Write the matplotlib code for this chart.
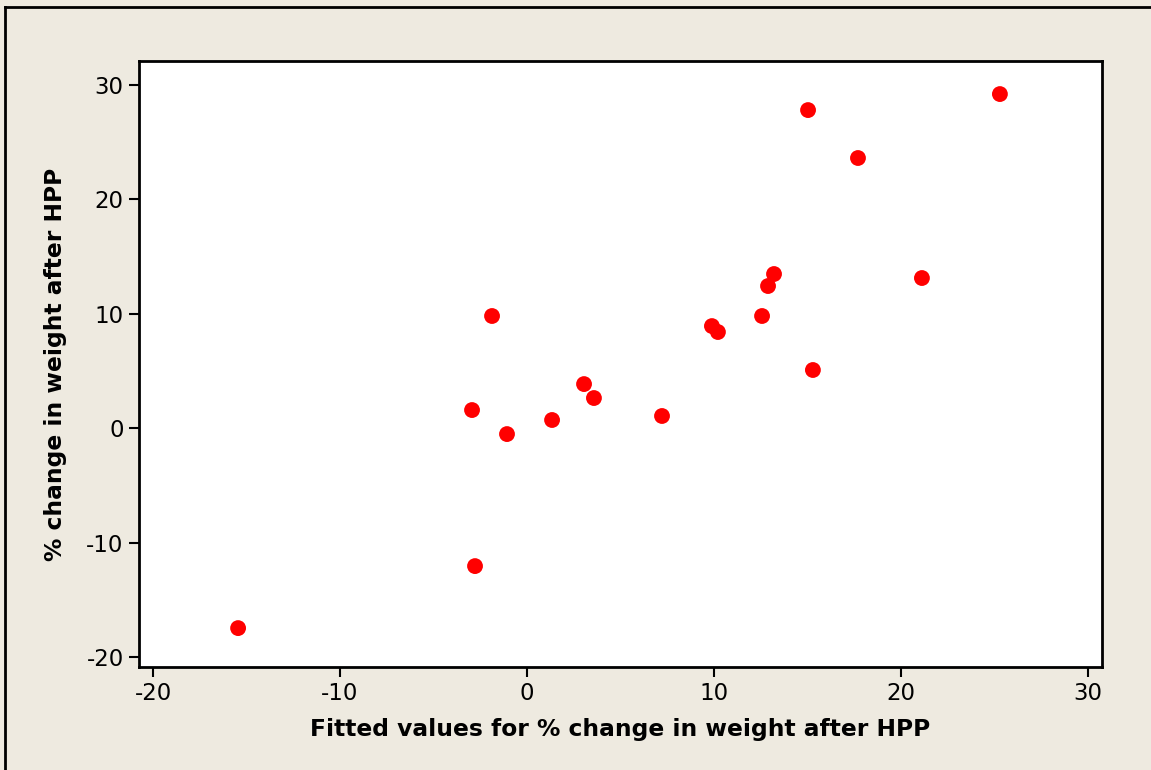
import numpy as np
import matplotlib.pyplot as plt
from matplotlib.lines import Line2D

# fitted values vs observed % change in weight after HPP
fitted = [-15.45, -2.78, -2.94, -1.87, -1.07, 1.34, 3.05, 3.58, 7.22, 9.89,
          10.21, 12.57, 12.89, 13.21, 15.29, 15.03, 17.70, 21.12, 25.29]
observed = [-17.47, -12.05, 1.59, 9.81, -0.51, 0.72, 3.86, 2.64, 1.07, 8.93,
            8.41, 9.81, 12.43, 13.48, 5.09, 27.81, 23.62, 13.13, 29.21]

xticks = [-20, -10, 0, 10, 20, 30]
yticks = [-20, -10, 0, 10, 20, 30]

bg = '#EEEAE0'
plt.rcParams['font.family'] = ['DejaVu Sans']
plt.rcParams['axes.unicode_minus'] = False

fig = plt.figure(figsize=(11.51, 7.70), dpi=100, facecolor=bg)
ax = fig.add_axes([139/1151, 1 - 667/770, (1102-139)/1151, (667-61)/770])
ax.set_facecolor('white')

ax.scatter(fitted, observed, s=130, color='#FF0000', edgecolors='none', zorder=3)

ax.set_xlim(-20.75, 30.75)
ax.set_ylim(-20.87, 32.1)
ax.set_xticks(xticks)
ax.set_yticks(yticks)
ax.tick_params(labelsize=16.5, length=7, width=1.5, color='black', pad=4)
for s in ax.spines.values():
    s.set_linewidth(2)

ax.set_xlabel('Fitted values for % change in weight after HPP', fontsize=16.8,
              fontweight='bold', labelpad=9)
ax.set_ylabel('% change in weight after HPP', fontsize=16.8, fontweight='bold',
              labelpad=14)

# outer frame (left and top edges)
fig.add_artist(Line2D([5/1151, 5/1151], [0, 1 - 7/770], color='black', lw=2))
fig.add_artist(Line2D([5/1151, 1], [1 - 7/770, 1 - 7/770], color='black', lw=2))

fig.savefig('out.png', dpi=100, facecolor=bg)
